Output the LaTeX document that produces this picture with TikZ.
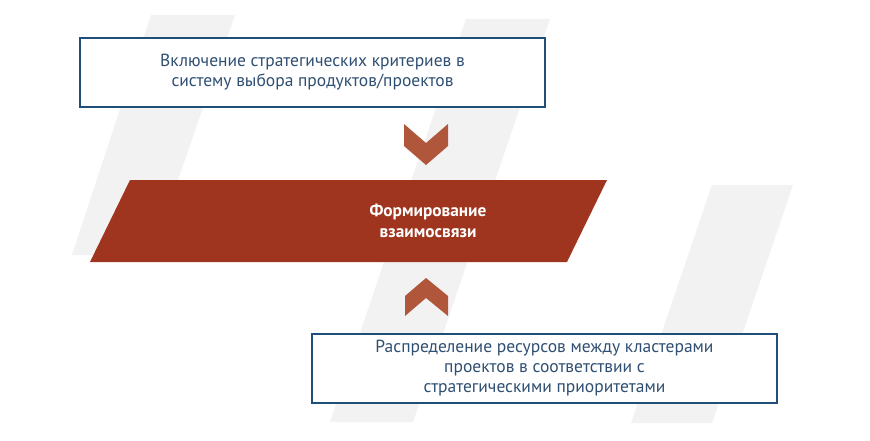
\documentclass[tikz,border=0pt]{standalone}
\usepackage{fontspec}
\setmainfont{PT Sans}
\definecolor{bblue}{HTML}{1F4E79}
\definecolor{tblue}{HTML}{2F4F73}
\definecolor{rred}{HTML}{A0351F}
\definecolor{chev}{HTML}{B0573B}
\definecolor{stripe}{HTML}{F2F2F2}
\begin{document}
\begin{tikzpicture}[x=1pt,y=-1pt,
  box/.style={draw=bblue,line width=2.8pt,fill=white,minimum width=465pt,minimum height=69pt,align=center,text=tblue,font=\fontsize{17.5}{20}\selectfont},
  chevron/.style={fill=chev}]
\useasboundingbox (0,0) rectangle (870,441);
\fill[white] (0,0) rectangle (870,441);
\fill[stripe] (151,15)--(235,15)--(152,255)--(72,255)--cycle;
\fill[stripe] (466,19)--(550,19)--(413,422)--(330,422)--cycle;
\fill[stripe] (712,185)--(793,185)--(712,423)--(631,423)--cycle;
\node[box] (top) at (312.5,72.5) {Включение стратегических критериев в\\систему выбора продуктов/проектов};
\node[box] (bot) at (544.5,368.5) {Распределение ресурсов между кластерами\\проектов в соответствии с\\стратегическими приоритетами};
\fill[rred] (130,180)--(607,180)--(567,262)--(90,262)--cycle;
\node[text=white,font=\bfseries\fontsize{17.3}{21}\selectfont,align=center] (mid) at (428,221) {Формирование\\взаимосвязи};
\fill[chevron] (404,124)--(426,143)--(448,124)--(448,146)--(426,165)--(404,146)--cycle;
\fill[chevron] (405,316)--(405,296)--(426,278)--(448,296)--(448,316)--(426,298)--cycle;
\end{tikzpicture}
\end{document}
